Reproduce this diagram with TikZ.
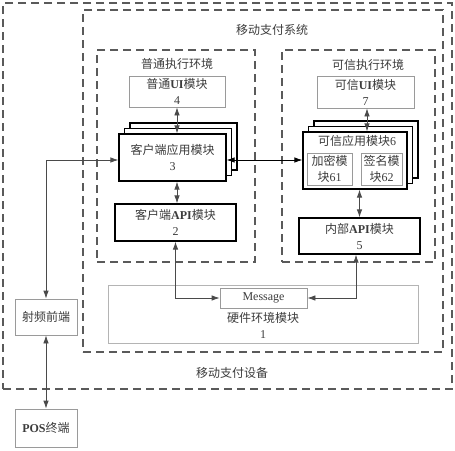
\documentclass[tikz,border=0pt]{standalone}
\usepackage{fontspec}
\setmainfont{Liberation Serif}
\newfontfamily\cjk{Noto Sans CJK SC}
\usetikzlibrary{arrows.meta,calc}
\newcommand{\zh}[1]{{\cjk #1}}
\definecolor{txt}{HTML}{3C3C3C}
\definecolor{dashc}{HTML}{5A5A5A}
\definecolor{thinc}{HTML}{9A9A9A}
\definecolor{hwc}{HTML}{B4B4B4}
\definecolor{linec}{HTML}{4A4A4A}
\begin{document}
\begin{tikzpicture}[x=1pt,y=-1pt,
  every node/.style={font=\fontsize{12}{16}\selectfont, text=txt, inner sep=0pt, align=center},
  sz/.style 2 args={minimum width=#1pt, minimum height=#2pt},
  dbox/.style={draw=dashc, line width=1.2pt, dash pattern=on 8pt off 5pt},
  thick box/.style={draw=black, line width=1.2pt, fill=white},
  thin box/.style={draw=thinc, line width=0.8pt, fill=white},
  conn/.style={draw=linec, line width=0.8pt, {Latex[length=8pt,width=5.5pt]}-{Latex[length=8pt,width=5.5pt]}}
]
\useasboundingbox (0,0) rectangle (455,450);
% containers
\node[dbox, sz={449}{386}] (device) at (227.5,196) {};
\node[dbox, sz={360}{342}] (system) at (263,181) {};
\node[dbox, sz={158}{212}] (ree) at (176,156) {};
\node[dbox, sz={153}{212}] (tee) at (358.5,156) {};
\node (devlbl) at (232,373) {\zh{移动支付设备}};
\node (syslbl) at (272,30) {\zh{移动支付系统}};
\node (reelbl) at (177,64) {\zh{普通执行环境}};
\node (teelbl) at (368,65) {\zh{可信执行环境}};
% normal environment
\node[thin box, sz={96}{31}] (ui4) at (177,91.5) {\zh{普通}\textbf{UI}\zh{模块}\\4};
\node[thick box, sz={107}{47}] (app3b2) at (183.5,146.5) {};
\node[thick box, sz={107}{47}] (app3b1) at (178,152) {};
\node[thick box, sz={107}{47}] (app3) at (172.5,157.5) {\zh{客户端应用模块}\\3};
\node[thick box, sz={121}{37}] (api2) at (175.5,222.5) {\zh{客户端}\textbf{API}\zh{模块}\\2};
% trusted environment
\node[thin box, sz={97}{32}] (ui7) at (365.5,92) {\zh{可信}\textbf{UI}\zh{模块}\\7};
\node[thick box, sz={104}{57}] (app6b2) at (366,149.5) {};
\node[thick box, sz={104}{57}] (app6b1) at (360.5,155) {};
\node[thick box, sz={104}{57}] (app6) at (355,160.5) {};
\node (app6lbl) at (357,141) {\zh{可信应用模块}6};
\node[thin box, sz={45}{32}] (enc61) at (329.5,169) {\zh{加密模}\\\zh{块}61};
\node[thin box, sz={41}{32}] (sig62) at (381.5,169) {\zh{签名模}\\\zh{块}62};
\node[thick box, sz={121}{36}] (api5) at (359.5,236) {\zh{内部}\textbf{API}\zh{模块}\\5};
% hardware
\node[draw=hwc, line width=0.8pt, sz={310}{58}] (hw1) at (263,314) {};
\node[thin box, sz={87}{20}] (msg) at (263.5,298) {Message};
\node (hwlbl) at (263,325) {\zh{硬件环境模块}\\1};
% outside
\node[thin box, sz={62}{36}] (rf) at (46,317) {\zh{射频前端}};
\node[thin box, sz={62}{38}] (pos) at (46,428) {\textbf{POS}\zh{终端}};
% connectors
\draw[conn] (ui4.south) -- (ui4.south |- app3.north);
\draw[conn] (app3.south -| ui4.south) -- (api2.north -| ui4.south);
\draw[conn] ([yshift=-2.5pt]app3.west) -| (rf.north);
\draw[conn] (rf.south) -- (pos.north);
\draw[conn, draw=black] ([yshift=-2.5pt]app3.east) -- ([yshift=-2.5pt]app3.east -| app6.west);
\draw[conn] (ui7.south -| 367,0) -- (app6.north -| 367,0);
\draw[conn] (app6.south -| api5.north) -- (api5.north);
\draw[conn] (api2.south) |- (msg.west);
\draw[conn] (api5.south -| 356,0) |- (msg.east);
\end{tikzpicture}
\end{document}
